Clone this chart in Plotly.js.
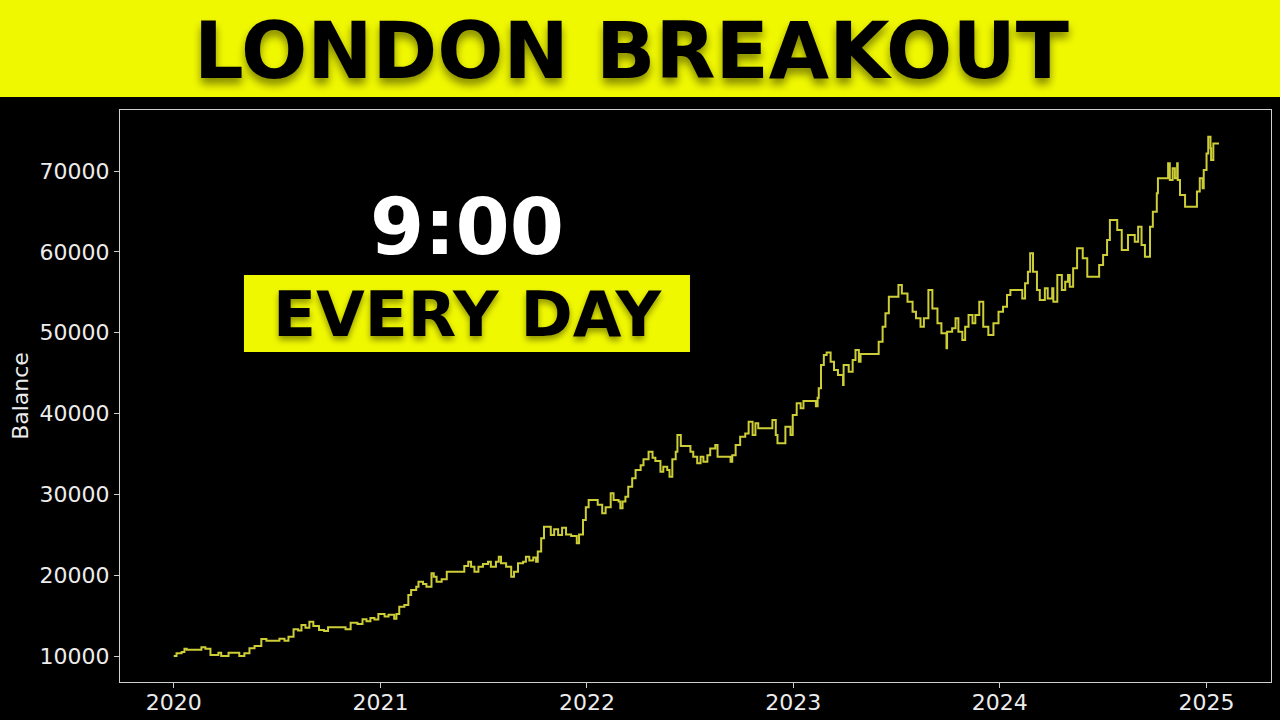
<!DOCTYPE html>
<html>
<head>
<meta charset="utf-8">
<script src="https://cdn.plot.ly/plotly-3.0.1.min.js"></script>
<style>
  html, body { margin: 0; padding: 0; background: #000; }
  #chart { width: 1280px; height: 720px; }
</style>
</head>
<body>
<div id="chart"></div>
<script>
// ---- Data ----
const dates = [
  "2020-01-01","2020-01-06","2020-01-15","2020-01-20","2020-01-24","2020-02-19","2020-02-26","2020-03-06",
  "2020-03-20","2020-03-25","2020-04-07","2020-04-26","2020-05-05","2020-05-14","2020-05-23","2020-06-04",
  "2020-06-13","2020-07-06","2020-07-15","2020-07-22","2020-07-31","2020-08-08","2020-08-14","2020-08-21",
  "2020-08-28","2020-09-04","2020-09-14","2020-09-23","2020-09-30","2020-10-31","2020-11-09","2020-11-21",
  "2020-11-30","2020-12-07","2020-12-14","2020-12-21","2020-12-28",
  "2021-01-08","2021-01-15","2021-01-25","2021-01-29","2021-02-03","2021-02-12","2021-02-19","2021-02-24",
  "2021-03-05","2021-03-09","2021-03-17","2021-03-23","2021-04-01","2021-04-05","2021-04-10","2021-04-19",
  "2021-04-28","2021-05-29","2021-06-05","2021-06-10","2021-06-16","2021-06-23","2021-07-01","2021-07-10",
  "2021-07-15","2021-07-24","2021-07-29","2021-08-02","2021-08-11","2021-08-20","2021-08-25","2021-09-01",
  "2021-09-10","2021-09-15","2021-09-21","2021-09-28","2021-10-03","2021-10-06","2021-10-12","2021-10-17",
  "2021-10-29","2021-11-04","2021-11-11","2021-11-18","2021-11-25","2021-12-04","2021-12-14","2021-12-18",
  "2021-12-25","2021-12-30",
  "2022-01-04","2022-01-20","2022-01-28","2022-02-03","2022-02-12","2022-02-17","2022-02-26","2022-03-01",
  "2022-03-05","2022-03-10","2022-03-15","2022-03-22","2022-03-28","2022-04-06","2022-04-11","2022-04-20",
  "2022-04-27","2022-05-02","2022-05-11","2022-05-16","2022-05-23","2022-05-27","2022-06-01","2022-06-07",
  "2022-06-10","2022-06-16","2022-07-03","2022-07-08","2022-07-15","2022-07-21","2022-07-26","2022-08-02",
  "2022-08-07","2022-08-16","2022-08-20","2022-09-12","2022-09-15","2022-09-21","2022-09-29","2022-10-08",
  "2022-10-14","2022-10-21","2022-10-26","2022-10-31","2022-11-25","2022-12-01","2022-12-04","2022-12-18",
  "2022-12-27","2022-12-31",
  "2023-01-07","2023-01-14","2023-01-19","2023-02-10","2023-02-13","2023-02-15","2023-02-19","2023-02-24",
  "2023-03-01","2023-03-08","2023-03-14","2023-03-21","2023-03-30","2023-03-31","2023-04-09","2023-04-16",
  "2023-04-21","2023-04-27","2023-04-30","2023-06-01","2023-06-08","2023-06-13","2023-06-19","2023-07-06",
  "2023-07-12","2023-07-22","2023-07-31","2023-08-06","2023-08-14","2023-08-20","2023-08-28","2023-09-04",
  "2023-09-13","2023-09-20","2023-09-29","2023-09-30","2023-10-09","2023-10-15","2023-10-20","2023-10-27",
  "2023-11-01","2023-11-07","2023-11-14","2023-11-19","2023-11-26","2023-12-03","2023-12-12","2023-12-21",
  "2023-12-30",
  "2024-01-07","2024-01-14","2024-01-20","2024-02-10","2024-02-15","2024-02-20","2024-02-24","2024-02-29",
  "2024-03-07","2024-03-12","2024-03-21","2024-03-26","2024-04-03","2024-04-05","2024-04-12","2024-04-20",
  "2024-04-26","2024-05-01","2024-05-04","2024-05-10","2024-05-17","2024-05-27","2024-06-04","2024-06-25",
  "2024-07-02","2024-07-09","2024-07-14","2024-07-27","2024-08-04","2024-08-15","2024-08-27","2024-09-02",
  "2024-09-08","2024-09-14","2024-09-23","2024-09-28","2024-10-05","2024-10-07","2024-10-25","2024-10-28",
  "2024-11-02","2024-11-06","2024-11-10","2024-11-11","2024-11-15","2024-11-24","2024-12-15","2024-12-20",
  "2024-12-25","2024-12-27",
  "2025-01-01","2025-01-04","2025-01-08","2025-01-09","2025-01-13","2025-01-23"
];
const balance = [
  10000,10330,10500,10900,10780,11080,10900,10120,
  10400,10000,10400,10000,10330,10950,11240,12100,
  11900,12140,11900,12390,13300,13150,13840,13500,
  14240,13710,13220,13100,13550,13300,14120,13970,
  14540,14300,14700,14500,15200,
  14900,15100,14620,15200,16100,16300,17550,18160,
  18570,19190,18900,18570,20230,19800,19190,19500,
  20420,21130,21670,21050,20420,21050,21380,21670,
  21050,21670,22290,21460,21050,19810,20420,21470,
  21670,22290,21800,22200,21670,22920,24560,26000,
  24970,25670,24970,25870,25040,24840,23940,25040,
  26820,28390,
  29300,28700,27650,28390,30130,29300,29100,28270,
  29100,29710,30950,31980,33010,33600,34330,35270,
  34540,34130,32800,33420,33010,32180,34330,35270,
  37340,35980,35270,34650,33830,34650,34040,34850,
  35680,36100,34650,34040,34850,36100,37130,37540,
  38980,37340,38780,38160,39190,37340,36310,38360,
  37340,39810,
  41260,40650,41540,40910,41950,43110,46000,47230,
  47540,46410,45380,44760,43520,46000,45170,46620,
  47850,46410,47360,48880,50740,52390,54440,55890,
  54860,53820,52590,51770,50740,51770,55270,53000,
  51150,49920,48060,50120,50540,51770,50120,49090,
  50740,52180,51150,52180,53830,50740,49710,51150,
  52590,
  53210,54650,55270,54240,56100,57540,59810,57540,
  55270,54030,55480,54240,55480,53830,57130,55270,
  56310,57130,55690,57960,60430,59200,56930,58370,
  59600,61460,63930,62700,60220,62080,61260,63110,
  60840,59400,63110,64960,67240,69090,70950,68880,
  70330,69090,70950,68880,67020,65580,67450,69090,
  67860,70120,
  72180,74230,72800,71360,73410,73410
];
const yTicks = [10000, 20000, 30000, 40000, 50000, 60000, 70000];
const chartTitle = "LONDON BREAKOUT";
const bigTime = "9:00";
const tagLine = "EVERY DAY";
const yLabel = "Balance";

// ---- Chart ----
const trace = {
  x: dates,
  y: balance,
  type: "scatter",
  mode: "lines",
  line: { color: "rgb(205,205,55)", width: 2, shape: "hv" },
  hoverinfo: "skip"
};

const axisFont = { family: "DejaVu Sans, sans-serif", size: 22, color: "#ececec" };
const heavy = "DejaVu Sans, sans-serif";
const yellow = "#f0f800";

const layout = {
  width: 1280,
  height: 720,
  paper_bgcolor: "#000000",
  plot_bgcolor: "#000000",
  margin: { l: 120, r: 9, t: 110, b: 38, pad: 0 },
  showlegend: false,
  xaxis: {
    type: "date",
    range: ["2019-09-28", "2025-04-25"],
    tick0: "2020-01-01",
    dtick: "M12",
    tickformat: "%Y",
    showgrid: false,
    zeroline: false,
    showline: true,
    linecolor: "#cfcfcf",
    linewidth: 1,
    mirror: true,
    ticks: "outside",
    ticklen: 5,
    tickcolor: "#cfcfcf",
    ticklabelstandoff: -4,
    tickfont: axisFont
  },
  yaxis: {
    range: [6783, 77547],
    tickvals: yTicks,
    ticktext: yTicks.map(v => String(v)),
    showgrid: false,
    zeroline: false,
    showline: true,
    linecolor: "#cfcfcf",
    linewidth: 1,
    mirror: true,
    ticks: "outside",
    ticklen: 5,
    tickcolor: "#cfcfcf",
    tickfont: axisFont,
    title: { text: yLabel, font: axisFont, standoff: 4 }
  },
  shapes: [
    { type: "rect", xref: "paper", yref: "paper", x0: -0.2, x1: 1.2, y0: 1.0227, y1: 1.25,
      fillcolor: yellow, line: { width: 0 }, layer: "below" },
    { type: "rect", xref: "paper", yref: "paper", x0: 0.1077, x1: 0.4952, y0: 0.5769, y1: 0.7115,
      fillcolor: yellow, line: { width: 0 }, layer: "above" }
  ],
  annotations: [
    { text: chartTitle, xref: "paper", yref: "paper", x: 0.4448, y: 1.103,
      xanchor: "center", yanchor: "middle", showarrow: false,
      font: { family: heavy, size: 78, weight: 900, color: "#000000",
              shadow: "0px 6px 8px rgba(0,0,0,0.45)" } },
    { text: bigTime, xref: "paper", yref: "paper", x: 0.3015, y: 0.795,
      xanchor: "center", yanchor: "middle", showarrow: false,
      font: { family: heavy, size: 78, weight: 900, color: "#ffffff" } },
    { text: tagLine, xref: "paper", yref: "paper", x: 0.3015, y: 0.643,
      xanchor: "center", yanchor: "middle", showarrow: false,
      font: { family: heavy, size: 63, weight: 900, color: "#000000",
              shadow: "0px 4px 6px rgba(0,0,0,0.4)" } }
  ]
};

Plotly.newPlot("chart", [trace], layout, { displayModeBar: false, staticPlot: true });
</script>
</body>
</html>
